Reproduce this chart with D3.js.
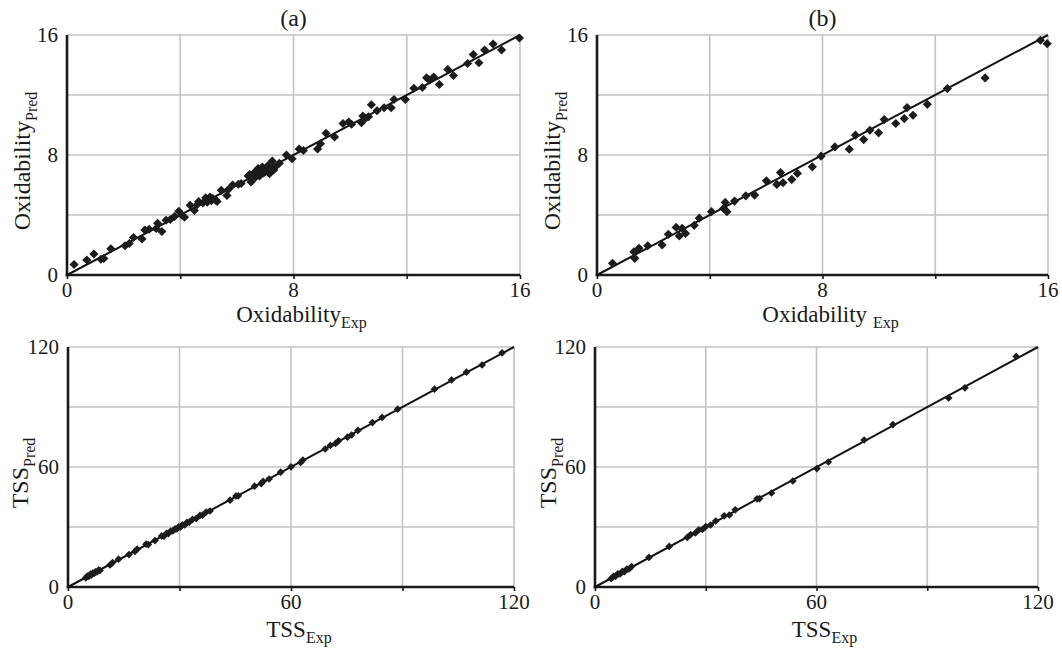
<!DOCTYPE html>
<html>
<head>
<meta charset="utf-8">
<script src="https://cdn.jsdelivr.net/npm/d3@7"></script>
<style>
  body { margin: 0; background: #fff; }
  svg { display: block; font-family: "Liberation Serif", "Times New Roman", serif; }
</style>
</head>
<body>
<svg id="chart" width="1062" height="650"></svg>
<script>
// oxidability, set (a) : [exp, pred]
const oxidabilityA = [
  [0.25,0.7],[0.7,1.0],[0.95,1.4],[1.2,1.05],[1.3,1.1],[1.55,1.75],[2.05,1.95],[2.2,2.1],
  [2.35,2.5],[2.65,2.4],[2.75,3.0],[2.9,3.05],[3.15,3.1],[3.2,3.45],[3.35,2.9],[3.5,3.65],
  [3.65,3.7],[3.8,3.9],[3.95,4.25],[4.05,4.0],[4.15,3.85],[4.35,4.65],[4.5,4.3],[4.6,4.7],
  [4.65,4.9],[4.8,4.8],[4.9,5.15],[4.95,4.85],[5.0,5.0],[5.05,5.2],[5.1,4.95],[5.15,5.1],
  [5.25,5.0],[5.3,4.9],[5.45,5.65],[5.65,5.3],[5.7,5.7],[5.85,6.0],[6.05,6.05],[6.15,6.1],
  [6.4,6.6],[6.45,6.7],[6.5,6.2],[6.6,6.8],[6.65,6.5],[6.7,6.9],[6.75,7.1],[6.8,6.6],
  [6.85,6.95],[6.9,7.2],[6.95,6.8],[7.0,6.9],[7.05,7.0],[7.1,7.3],[7.15,6.75],[7.2,7.1],
  [7.25,7.6],[7.3,7.0],[7.35,7.2],[7.5,7.45],[7.75,8.0],[7.95,7.75],[8.2,8.4],[8.35,8.3],
  [8.85,8.4],[8.95,8.75],[9.15,9.45],[9.45,9.2],[9.75,10.1],[9.95,10.2],[10.05,10.05],
  [10.4,10.15],[10.45,10.6],[10.55,10.45],[10.65,10.55],[10.75,11.35],[10.95,10.95],
  [11.2,11.15],[11.45,11.15],[11.55,11.7],[11.95,11.7],[12.25,12.45],[12.55,12.5],
  [12.7,13.15],[12.8,13.0],[12.95,13.2],[13.15,12.7],[13.45,13.7],[13.65,13.3],[14.15,14.1],
  [14.35,14.7],[14.55,14.15],[14.75,15.0],[15.05,15.4],[15.35,15.0],[15.98,15.8]
];

// oxidability, set (b)
const oxidabilityB = [
  [0.55,0.78],[1.31,1.55],[1.34,1.11],[1.49,1.78],[1.8,1.95],[2.31,2.0],[2.53,2.71],
  [2.81,3.17],[2.92,2.6],[3.02,3.11],[3.14,2.77],[3.45,3.31],[3.63,3.79],[4.06,4.22],
  [4.49,4.44],[4.55,4.84],[4.61,4.22],[4.88,4.93],[5.28,5.28],[5.59,5.33],[6.01,6.28],
  [6.38,6.04],[6.51,6.83],[6.6,6.15],[6.91,6.37],[7.11,6.77],[7.64,7.21],[7.95,7.92],
  [8.44,8.54],[8.95,8.39],[9.17,9.32],[9.46,9.03],[9.68,9.65],[9.99,9.48],[10.19,10.36],
  [10.6,10.1],[10.9,10.43],[11.0,11.16],[11.21,10.65],[11.72,11.38],[12.43,12.43],
  [13.77,13.14],[15.73,15.65],[15.97,15.42]
];

// TSS, set (a)
const tssA = [
  [4.8,4.6],[5.2,5.5],[5.6,5.3],[6.0,6.4],[6.3,6.0],[6.7,7.0],[7.0,6.8],[7.4,7.6],[7.8,7.5],
  [8.2,8.4],[8.6,8.3],[11.3,11.0],[12.0,12.2],[13.6,13.9],[16.4,16.2],[18.0,17.8],[18.6,18.9],
  [21.0,21.4],[21.6,21.2],[23.4,23.2],[25.2,25.5],[25.8,25.4],[26.5,26.8],[27.0,26.7],
  [27.6,27.9],[28.2,28.0],[28.8,29.1],[29.3,29.0],[29.8,30.1],[30.3,30.0],[30.8,31.1],
  [31.4,31.0],[32.0,32.3],[32.6,32.4],[33.5,33.8],[34.5,34.2],[35.5,35.8],[36.2,35.9],
  [37.2,37.5],[38.2,38.0],[43.6,43.4],[45.2,45.5],[45.8,45.6],[50.2,50.4],[52.0,51.7],
  [52.5,52.8],[54.1,54.0],[57.2,57.4],[60.0,60.1],[62.6,62.3],[63.2,63.5],[69.2,69.0],
  [70.6,70.8],[72.0,71.8],[72.8,73.1],[75.2,74.9],[76.3,76.0],[78.0,78.3],[81.9,82.2],
  [84.5,84.8],[88.7,88.9],[98.6,98.9],[103.2,103.5],[107.2,107.4],[111.4,111.0],[116.8,117.1]
];

// TSS, set (b)
const tssB = [
  [4.4,4.2],[5.0,5.3],[5.6,5.4],[6.2,6.6],[6.8,6.5],[7.4,7.8],[8.0,7.7],[8.6,8.9],[9.2,9.0],
  [9.9,10.2],[14.6,14.8],[20.1,20.3],[25.0,24.8],[25.9,26.2],[27.2,27.0],[28.1,28.6],
  [29.1,28.8],[30.0,30.2],[31.3,31.0],[32.7,33.0],[35.0,35.6],[36.4,36.0],[38.0,38.6],
  [43.9,44.1],[44.6,44.2],[47.8,47.0],[53.6,53.0],[60.1,59.2],[63.2,62.5],[72.9,73.5],
  [80.7,81.2],[95.8,94.5],[100.2,99.6],[114.1,115.3]
];

const oxTicks = [0, 8, 16];
const oxGrid = [0, 4, 8, 12, 16];
const tssTicks = [0, 60, 120];
const tssGrid = [0, 30, 60, 90, 120];
const panelTitles = ["(a)", "(b)"];

const svg = d3.select("#chart");

// panel frames (pixels)
const panels = [
  { data: oxidabilityA, max: 16, ticks: oxTicks, grid: oxGrid, name: "Oxidability", gap: "",
    x0: 67, x1: 520, y0: 35, y1: 275, title: panelTitles[0], yLabX: 30, xLabY: 322, sz: 42 },
  { data: oxidabilityB, max: 16, ticks: oxTicks, grid: oxGrid, name: "Oxidability", gap: " ",
    x0: 597, x1: 1048, y0: 35, y1: 275, title: panelTitles[1], yLabX: 560, xLabY: 322, sz: 42 },
  { data: tssA, max: 120, ticks: tssTicks, grid: tssGrid, name: "TSS", gap: "",
    x0: 68, x1: 514, y0: 347, y1: 587, title: null, yLabX: 28, xLabY: 637, sz: 30 },
  { data: tssB, max: 120, ticks: tssTicks, grid: tssGrid, name: "TSS", gap: "",
    x0: 595, x1: 1038, y0: 347, y1: 587, title: null, yLabX: 556, xLabY: 637, sz: 30 }
];

panels.forEach(p => {
  const x = d3.scaleLinear().domain([0, p.max]).range([p.x0, p.x1]);
  const y = d3.scaleLinear().domain([0, p.max]).range([p.y1, p.y0]);
  const g = svg.append("g");

  // grid
  g.selectAll(".gx").data(p.grid).enter().append("line")
    .attr("x1", d => x(d)).attr("x2", d => x(d))
    .attr("y1", p.y0).attr("y2", p.y1)
    .attr("stroke", "#c2c2c2").attr("stroke-width", 1.6);
  g.selectAll(".gy").data(p.grid).enter().append("line")
    .attr("x1", p.x0).attr("x2", p.x1)
    .attr("y1", d => y(d)).attr("y2", d => y(d))
    .attr("stroke", "#c2c2c2").attr("stroke-width", 1.6);

  // axes
  const xAxis = g.append("g")
    .attr("transform", `translate(0,${p.y1})`)
    .call(d3.axisBottom(x).tickValues(p.grid).tickSize(4).tickFormat(""));
  const yAxis = g.append("g")
    .attr("transform", `translate(${p.x0},0)`)
    .call(d3.axisLeft(y).tickValues(p.grid).tickSize(0).tickFormat(""));
  [xAxis, yAxis].forEach(a => {
    a.select(".domain").attr("stroke", "#1a1a1a").attr("stroke-width", 2.6);
    a.selectAll(".tick line").attr("stroke", "#1a1a1a").attr("stroke-width", 1.6);
  });
  yAxis.select(".domain").attr("d", `M0,${p.y0}V${p.y1 + 1.3}`);
  xAxis.select(".domain").attr("d", `M${p.x0 - 1.3},0H${p.x1}`);

  // tick labels
  g.selectAll(".xt").data(p.ticks).enter().append("text")
    .attr("x", d => x(d)).attr("y", p.y1 + 22)
    .attr("text-anchor", "middle")
    .style("font-size", "21px").style("fill", "#1a1a1a")
    .text(d => d);
  g.selectAll(".yt").data(p.ticks).enter().append("text")
    .attr("x", p.x0 - 9).attr("y", d => y(d) + 7)
    .attr("text-anchor", "end")
    .style("font-size", "21px").style("fill", "#1a1a1a")
    .text(d => d);

  // y = x line
  g.append("line")
    .attr("x1", x(0)).attr("y1", y(0)).attr("x2", x(p.max)).attr("y2", y(p.max))
    .attr("stroke", "#111").attr("stroke-width", 2);

  // points
  g.selectAll(".pt").data(p.data).enter().append("path")
    .attr("d", d3.symbol().type(d3.symbolSquare).size(p.sz))
    .attr("transform", d => `translate(${x(d[0])},${y(d[1])}) rotate(45)`)
    .attr("fill", "#1c1c1c");

  // axis titles
  const xc = (p.x0 + p.x1) / 2;
  const xl = g.append("text")
    .attr("x", xc + 8).attr("y", p.xLabY)
    .attr("text-anchor", "middle")
    .style("font-size", "23px").style("fill", "#1a1a1a");
  xl.append("tspan").text(p.name + p.gap);
  xl.append("tspan").attr("dy", 6).style("font-size", "16px").text("Exp");

  const yc = (p.y0 + p.y1) / 2;
  const yl = g.append("text")
    .attr("transform", `translate(${p.yLabX},${yc + 6}) rotate(-90)`)
    .attr("text-anchor", "middle")
    .style("font-size", "24px").style("fill", "#1a1a1a");
  yl.append("tspan").text(p.name);
  yl.append("tspan").attr("dy", 7).style("font-size", "16px").text("Pred");

  if (p.title) {
    g.append("text")
      .attr("x", xc).attr("y", 26)
      .attr("text-anchor", "middle")
      .style("font-size", "24px").style("fill", "#1a1a1a")
      .text(p.title);
  }
});
</script>
</body>
</html>
